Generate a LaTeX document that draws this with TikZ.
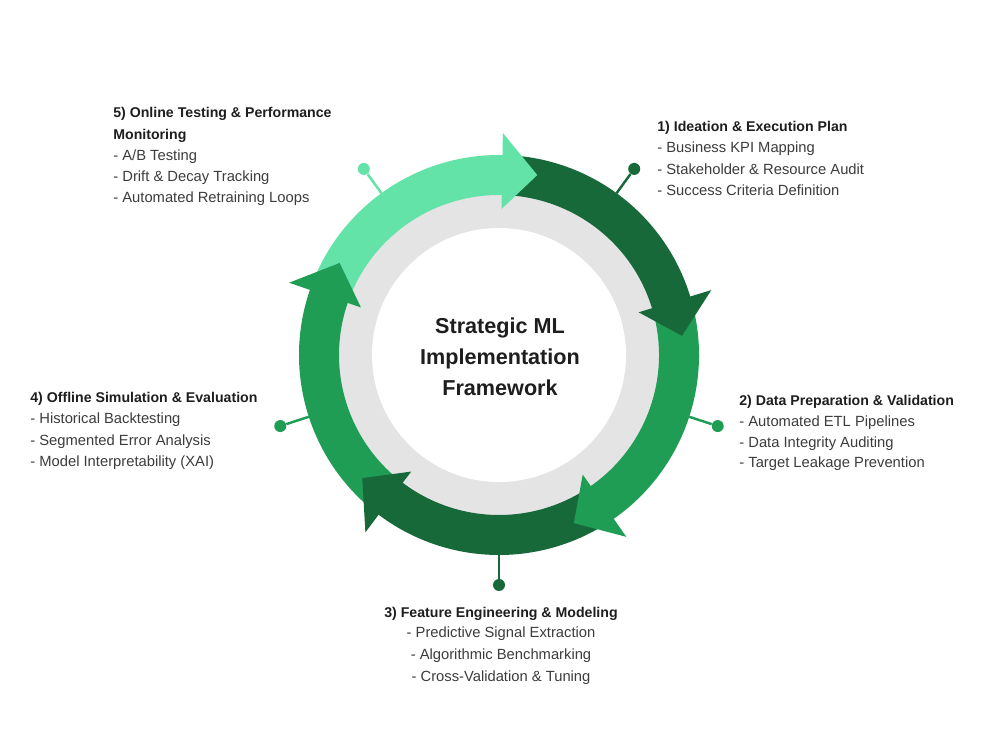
\documentclass[tikz,border=0pt]{standalone}
\usepackage{fontspec}
\setmainfont{Liberation Sans}
\definecolor{lgreen}{HTML}{63E3A8}
\definecolor{mgreen}{HTML}{1F9D55}
\definecolor{dgreen}{HTML}{17693A}
\definecolor{ringgray}{HTML}{E4E4E5}
\definecolor{ttlc}{HTML}{1E1E1E}
\definecolor{bdyc}{HTML}{3C3C3C}
\tikzset{
  ttl/.style={font=\fontsize{8.05}{10}\selectfont\bfseries, text=ttlc, inner sep=0pt},
  bdy/.style={font=\fontsize{8.4}{10}\selectfont, text=bdyc, inner sep=0pt},
  ctr/.style={font=\fontsize{12.3}{14}\selectfont\bfseries, text=ttlc, inner sep=0pt, anchor=base},
  dotn/.style={circle, inner sep=0pt, minimum size=0.24cm},
  conn/.style={line width=1.4pt},
}
\begin{document}
\begin{tikzpicture}[x=0.02cm,y=0.02cm]
\useasboundingbox (0,0) rectangle (1000,750);
\fill[white] (0,0) rectangle (1000,750);
\begin{scope}[shift={(499,395)}]
  % connectors
  \coordinate (e1) at (54:200);
  \coordinate (e2) at (-18:200);
  \coordinate (e3) at (-90:200);
  \coordinate (e4) at (198:200);
  \coordinate (e5) at (126:200);
  \node[dotn, fill=dgreen] (d1) at (54:230) {};
  \node[dotn, fill=mgreen] (d2) at (-18:230) {};
  \node[dotn, fill=dgreen] (d3) at (-90:230) {};
  \node[dotn, fill=mgreen] (d4) at (198:230) {};
  \node[dotn, fill=lgreen] (d5) at (126:230) {};
  \draw[conn, dgreen] (e1) -- (d1);
  \draw[conn, mgreen] (e2) -- (d2);
  \draw[conn, dgreen] (e3) -- (d3);
  \draw[conn, mgreen] (e4) -- (d4);
  \draw[conn, lgreen] (e5) -- (d5);
  % gray ring and white disk
  \fill[ringgray] (0,0) circle[radius=162];
  \fill[white] (0,0) circle[radius=127];
  % arrow bodies
  \foreach \a/\b/\c in {87/16/dgreen, 15/-56/mgreen, -57/-128/dgreen, -129/-200/mgreen, -201/-272/lgreen}{
    \fill[\c] (\a:200) arc[start angle=\a, end angle=\b, radius=200]
      -- (\b:160) arc[start angle=\b, end angle=\a, radius=160] -- cycle;
  }
  % arrow heads
  \foreach \t/\c in {6/dgreen, -66/mgreen, -138/dgreen, -210/mgreen, -282/lgreen}{
    \pgfmathsetmacro{\bs}{\t+11}
    \fill[\c] (\bs:146) -- (\bs:222) -- (\t:184) -- cycle;
  }
\end{scope}
% center title
\node[ctr] (c1) at (500,416) {Strategic ML};
\node[ctr] (c2) at (500,385) {Implementation};
\node[ctr] (c3) at (500,354) {Framework};
% block 1
\node[ttl, anchor=base west] (t1a) at (657,618) {1) Ideation \& Execution Plan};
\node[bdy, anchor=base west] (t1b) at (657,597) {- Business KPI Mapping};
\node[bdy, anchor=base west] (t1c) at (657,575) {- Stakeholder \& Resource Audit};
\node[bdy, anchor=base west] (t1d) at (657,554) {- Success Criteria Definition};
% block 2
\node[ttl, anchor=base west] (t2a) at (739,344) {2) Data Preparation \& Validation};
\node[bdy, anchor=base west] (t2b) at (739,323) {- Automated ETL Pipelines};
\node[bdy, anchor=base west] (t2c) at (739,302) {- Data Integrity Auditing};
\node[bdy, anchor=base west] (t2d) at (739,282) {- Target Leakage Prevention};
% block 3
\node[ttl, anchor=base] (t3a) at (501,132) {3) Feature Engineering \& Modeling};
\node[bdy, anchor=base] (t3b) at (501,112) {- Predictive Signal Extraction};
\node[bdy, anchor=base] (t3c) at (501,90) {- Algorithmic Benchmarking};
\node[bdy, anchor=base] (t3d) at (501,68) {- Cross-Validation \& Tuning};
% block 4
\node[ttl, anchor=base west] (t4a) at (30,347) {4) Offline Simulation \& Evaluation};
\node[bdy, anchor=base west] (t4b) at (30,326) {- Historical Backtesting};
\node[bdy, anchor=base west] (t4c) at (30,304) {- Segmented Error Analysis};
\node[bdy, anchor=base west] (t4d) at (30,283) {- Model Interpretability (XAI)};
% block 5
\node[ttl, anchor=base west] (t5a) at (113,632) {5) Online Testing \& Performance};
\node[ttl, anchor=base west] (t5b) at (113,610) {Monitoring};
\node[bdy, anchor=base west] (t5c) at (113,589) {- A/B Testing};
\node[bdy, anchor=base west] (t5d) at (113,568) {- Drift \& Decay Tracking};
\node[bdy, anchor=base west] (t5e) at (113,547) {- Automated Retraining Loops};
\end{tikzpicture}
\end{document}
